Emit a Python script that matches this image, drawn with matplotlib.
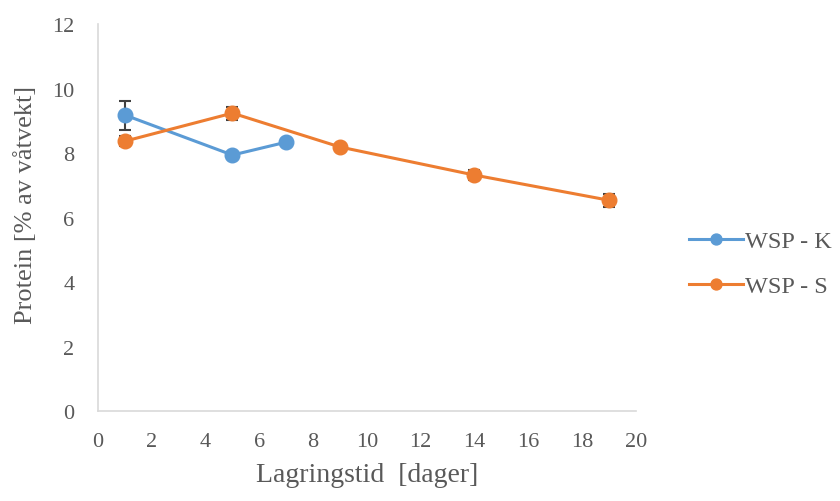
import matplotlib.pyplot as plt

plt.rcParams['font.family'] = ['Liberation Serif', 'DejaVu Serif']

k_dager = [1, 5, 7]
k_protein = [9.18, 7.94, 8.34]
k_err = [0.45, 0.08, 0.1]

s_dager = [1, 5, 9, 14, 19]
s_protein = [8.37, 9.24, 8.19, 7.32, 6.54]
s_err = [0.15, 0.2, 0.05, 0.15, 0.2]

blue = '#5b9bd5'
orange = '#ed7d31'
grey = '#595959'

fig = plt.figure(figsize=(8.4, 5.02), dpi=100)
ax = fig.add_axes([0.1167, 0.179, 0.640, 0.771])

ax.errorbar(k_dager, k_protein, yerr=k_err, color=blue, marker='o', markersize=10.5,
            linewidth=2.2, ecolor='#404040', elinewidth=1.5, capsize=4, capthick=1.5,
            label='WSP - K', zorder=3)
ax.errorbar(s_dager, s_protein, yerr=s_err, color=orange, marker='o', markersize=10.5,
            linewidth=2.2, ecolor='#404040', elinewidth=1.5, capsize=4, capthick=1.5,
            label='WSP - S', zorder=3)

ax.set_xlim(0, 20)
ax.set_ylim(0, 12)
ax.set_xticks(range(0, 21, 2))
ax.set_yticks(range(0, 13, 2))
ax.tick_params(length=0, labelsize=16, labelcolor=grey)
ax.tick_params(axis='x', pad=15)
ax.tick_params(axis='y', pad=17)
for side in ['top', 'right']:
    ax.spines[side].set_visible(False)
for side in ['left', 'bottom']:
    ax.spines[side].set_color('#d9d9d9')
    ax.spines[side].set_linewidth(1.2)

ax.set_xlabel('Lagringstid  [dager]', fontsize=20, color=grey, labelpad=8)
ax.set_ylabel('Protein [% av våtvekt]', fontsize=19, color=grey)
ax.yaxis.set_label_coords(-0.113, 0.535)

handles, labels = ax.get_legend_handles_labels()
handles = [h[0] for h in handles]
leg = fig.legend(handles, labels, loc='center left', bbox_to_anchor=(0.7945, 0.473),
                 frameon=False, fontsize=17.5, handlelength=2.2, labelspacing=0.95,
                 handletextpad=0.1, borderpad=0.4, markerscale=0.75)
for t in leg.get_texts():
    t.set_color(grey)

fig.savefig('out.png', dpi=100)
